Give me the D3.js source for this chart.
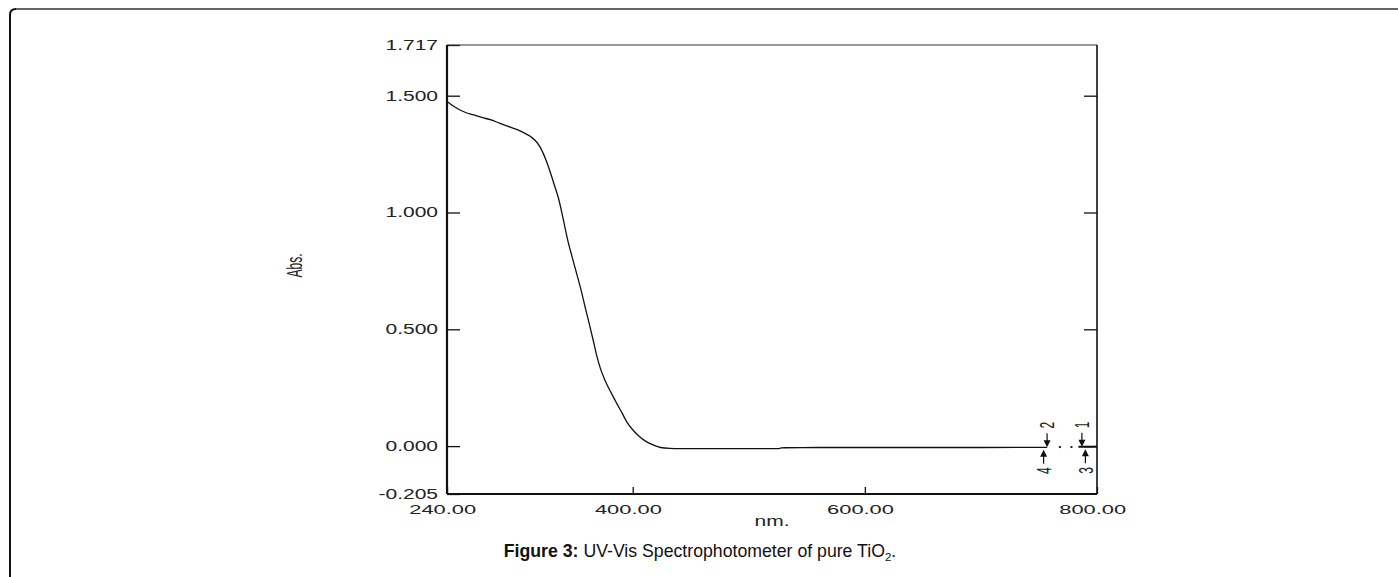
<!DOCTYPE html>
<html><head><meta charset="utf-8">
<script src="https://cdn.jsdelivr.net/npm/d3@7"></script>
<style>body{margin:0;background:#fff}svg{display:block}</style>
</head><body><svg id="c" width="1398" height="577"></svg>
<script>
// ---- data ----
const wavelength = [240, 245, 250, 256, 263, 270, 278, 285, 292, 300, 306, 312, 317, 320, 323, 326, 329, 332, 336, 340, 344, 348, 352, 356, 359, 363, 366, 369, 372, 376, 381, 386, 391, 395, 400, 405, 412, 418, 424, 432, 440, 460, 490, 525, 528, 531, 560, 600, 650, 700, 757];
const absorbance = [1.475, 1.457, 1.442, 1.428, 1.418, 1.407, 1.396, 1.383, 1.370, 1.356, 1.342, 1.325, 1.303, 1.282, 1.252, 1.215, 1.172, 1.125, 1.062, 0.975, 0.882, 0.806, 0.733, 0.658, 0.595, 0.515, 0.452, 0.387, 0.335, 0.283, 0.232, 0.185, 0.140, 0.103, 0.070, 0.044, 0.018, 0.004, -0.006, -0.010, -0.011, -0.011, -0.011, -0.011, -0.008, -0.007, -0.006, -0.006, -0.006, -0.006, -0.005];
const tailWavelength = [784, 790, 795, 800];
const tailAbsorbance = [-0.003, -0.003, -0.003, -0.002];
const gapDotWavelength = [768, 778];
const gapDotAbsorbance = [-0.004, -0.004];
const markerWavelength = [787, 757, 790, 754];
const markerLabels = ["1", "2", "3", "4"];
const markerDirection = ["down", "down", "up", "up"];
const markerAbsorbance = [-0.003, -0.005, -0.003, -0.005];
const yTickValues = [1.717, 1.5, 1.0, 0.5, 0.0, -0.205];
const yInnerTicks = [1.5, 1.0, 0.5, 0.0];
const xTickValues = [240, 400, 600, 800];
const xDomain = [240, 800];
const yDomain = [-0.205, 1.717];
const xTitle = "nm.";
const yTitle = "Abs.";

// ---- layout ----
const svg = d3.select("#c");
const L = 447, R = 1097, T = 45, B = 494;
const x = d3.scaleLinear().domain(xDomain).range([L, R]);
const y = d3.scaleLinear().domain(yDomain).range([B, T]);
const font = "'Liberation Sans', Arial, sans-serif";

// page frame (rounded top-left corner)
svg.append("path").attr("d", `M10,577 V15 Q10,9 16,9`).attr("fill", "none").attr("stroke", "#111").attr("stroke-width", 2);
svg.append("line").attr("x1", 16).attr("x2", 1398).attr("y1", 9).attr("y2", 9).attr("stroke", "#666").attr("stroke-width", 2);

function stretchText(sel, s) {
  sel.each(function () {
    const t = d3.select(this);
    const x0 = +t.attr("x") || 0;
    t.attr("x", x0 / s).attr("transform", `scale(${s},1)`);
  });
}
const fmtY = v => d3.format(".3f")(v).replace("\u2212", "-");

// left axis (labels + inward ticks)
const gy = svg.append("g").attr("transform", `translate(${L},0)`)
  .call(d3.axisLeft(y).tickValues(yTickValues).tickFormat(fmtY).tickSizeInner(-13).tickSizeOuter(0).tickPadding(9));
gy.select(".domain").remove();
gy.selectAll("line").attr("stroke", "#111").attr("stroke-width", 1.3);
gy.selectAll("text").attr("font-family", font).attr("font-size", 14).attr("fill", "#222");
stretchText(gy.selectAll("text"), 1.5);

// right axis inward ticks
const gr = svg.append("g").attr("transform", `translate(${R},0)`)
  .call(d3.axisRight(y).tickValues(yInnerTicks).tickFormat("").tickSizeInner(-13).tickSizeOuter(0));
gr.select(".domain").remove();
gr.selectAll("line").attr("stroke", "#111").attr("stroke-width", 1.3);

// bottom axis
const gx = svg.append("g").attr("transform", `translate(0,${B})`)
  .call(d3.axisBottom(x).tickValues(xTickValues).tickFormat(d3.format(".2f")).tickSizeInner(-7).tickSizeOuter(0).tickPadding(10));
gx.select(".domain").remove();
gx.selectAll("line").attr("stroke", "#111").attr("stroke-width", 1.3);
gx.selectAll("text").attr("font-family", font).attr("font-size", 13.5).attr("fill", "#222").attr("dx", -3);
stretchText(gx.selectAll("text"), 1.62);

// plot frame
svg.append("line").attr("x1", L).attr("x2", R).attr("y1", T).attr("y2", T).attr("stroke", "#333").attr("stroke-width", 1.2);
svg.append("line").attr("x1", R).attr("x2", R).attr("y1", T).attr("y2", B).attr("stroke", "#111").attr("stroke-width", 1.6);
svg.append("line").attr("x1", L).attr("x2", R).attr("y1", B).attr("y2", B).attr("stroke", "#111").attr("stroke-width", 2);
svg.append("line").attr("x1", L).attr("x2", L).attr("y1", T).attr("y2", B).attr("stroke", "#111").attr("stroke-width", 2.2);

// spectrum
const line = d3.line().x(d => x(d[0])).y(d => y(d[1])).curve(d3.curveMonotoneX);
svg.append("path").datum(wavelength.map((w, i) => [w, absorbance[i]]))
  .attr("d", line).attr("fill", "none").attr("stroke", "#111").attr("stroke-width", 1.3);
svg.append("path").datum(tailWavelength.map((w, i) => [w, tailAbsorbance[i]]))
  .attr("d", line).attr("fill", "none").attr("stroke", "#111").attr("stroke-width", 2);
svg.selectAll("rect.dot").data(gapDotWavelength.map((w, i) => [w, gapDotAbsorbance[i]])).enter()
  .append("rect").attr("class", "dot").attr("x", d => x(d[0]) - 1).attr("y", d => y(d[1]) - 1)
  .attr("width", 2).attr("height", 2).attr("fill", "#222");

// markers
markerWavelength.forEach((w, i) => {
  const px = x(w);
  const g = svg.append("g");
  if (markerDirection[i] === "down") {
    const tip = y(markerAbsorbance[i]);
    g.append("line").attr("x1", px).attr("x2", px).attr("y1", tip - 14).attr("y2", tip - 5).attr("stroke", "#111").attr("stroke-width", 1.2);
    g.append("path").attr("d", `M${px - 3.5},${tip - 7} L${px + 3.5},${tip - 7} L${px},${tip} Z`).attr("fill", "#111");
    g.append("text").attr("transform", `translate(${px},${tip - 22}) scale(1.7,1) rotate(-90)`)
      .attr("text-anchor", "middle").attr("dy", "0.35em").attr("font-family", font).attr("font-size", 12).attr("fill", "#222").text(markerLabels[i]);
  } else {
    const tip = y(markerAbsorbance[i]) + 2.5;
    g.append("line").attr("x1", px).attr("x2", px).attr("y1", tip + 5).attr("y2", tip + 14).attr("stroke", "#111").attr("stroke-width", 1.2);
    g.append("path").attr("d", `M${px - 3.5},${tip + 7} L${px + 3.5},${tip + 7} L${px},${tip} Z`).attr("fill", "#111");
    g.append("text").attr("transform", `translate(${px},${tip + 21}) scale(1.7,1) rotate(-90)`)
      .attr("text-anchor", "middle").attr("dy", "0.35em").attr("font-family", font).attr("font-size", 12).attr("fill", "#222").text(markerLabels[i]);
  }
});

// axis titles
svg.append("text").attr("transform", `translate(${(L + R) / 2},526) scale(1.5,1)`)
  .attr("text-anchor", "middle").attr("font-family", font).attr("font-size", 14).attr("fill", "#222").text(xTitle);
svg.append("text").attr("transform", `translate(294,${(T + B) / 2 - 4}) scale(1.9,1) rotate(-90)`)
  .attr("text-anchor", "middle").attr("dy", "0.35em").attr("font-family", font).attr("font-size", 12).attr("fill", "#222").text(yTitle);

// caption
const cap = svg.append("text").attr("x", 700).attr("y", 557).attr("text-anchor", "middle")
  .attr("font-family", font).attr("font-size", 17.7).attr("fill", "#111");
cap.append("tspan").attr("font-weight", "bold").text("Figure 3:");
cap.append("tspan").text(" UV-Vis Spectrophotometer of pure TiO");
cap.append("tspan").attr("font-size", 11.5).attr("dy", 4).text("2");
cap.append("tspan").attr("dy", -4).text(".");
</script>
</body></html>
